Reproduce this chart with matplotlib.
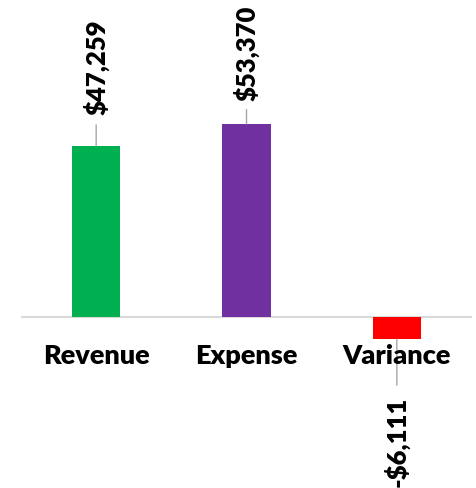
import matplotlib
matplotlib.use("Agg")
import matplotlib.pyplot as plt

categories = ["Revenue", "Expense", "Variance"]
values = [47259, 53370, -6111]
labels = ["$47,259", "$53,370", "-$6,111"]
colors = ["#00B050", "#7030A0", "#FF0000"]
label_offsets = [23, 17.3, -41]   # points from bar end to label
label_gaps = [5.8, 5.0, 5.8]

plt.rcParams['font.family'] = ['Lato', 'DejaVu Sans']

fig = plt.figure(figsize=(4.77, 4.89), dpi=100)
ax = fig.add_axes([21/477, 0, 451/477, 1])
x = list(range(len(categories)))
ax.bar(x, values, width=0.32, color=colors, zorder=2)
ax.set_xlim(-0.5, 2.5)
ax.set_ylim(-171*276.4, 318*276.4)
ax.axhline(0, color="#D9D9D9", lw=1.5, zorder=1)
for s in ax.spines.values():
    s.set_visible(False)
ax.set_xticks([]); ax.set_yticks([])

for i, (v, lab, off, gap) in enumerate(zip(values, labels, label_offsets, label_gaps)):
    ax.annotate(lab, xy=(i, v), xytext=(0, off), textcoords="offset points",
                rotation=90, ha="center", va="bottom" if v >= 0 else "top",
                fontsize=18.5, fontweight="heavy", color="black",
                arrowprops=dict(arrowstyle="-", color="#A6A6A6", lw=1,
                                shrinkA=gap, shrinkB=0), zorder=3)
    ax.annotate(categories[i], xy=(i, 0), xytext=(0, -27.4), textcoords="offset points",
                ha="center", va="center", fontsize=19.5, fontweight="heavy", color="black")

fig.savefig("out.png", dpi=100)
